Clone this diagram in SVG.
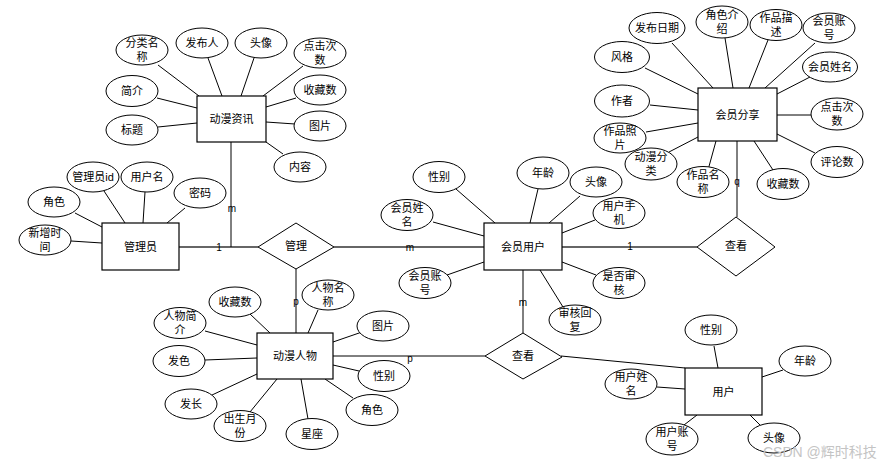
<svg xmlns="http://www.w3.org/2000/svg" width="896" height="466" viewBox="0 0 896 466">
<style>
text{font-family:"Liberation Sans","Noto Sans CJK SC",sans-serif;font-size:11px;fill:#000;text-anchor:middle;dominant-baseline:central}
.ent rect{fill:#fff;stroke:#000;stroke-width:1.2}
.rel polygon{fill:#fff;stroke:#000;stroke-width:1}
.att ellipse{fill:#fff;stroke:#000;stroke-width:1}
.c line{stroke:#000;stroke-width:1}
.c .g{stroke:#666;stroke-width:2}
.lbl{font-size:10px}
.wm{font-size:14px;fill:#c4c4c4;text-anchor:start}
</style>
<rect width="896" height="466" fill="#fff"/>
<g id="connectors" class="c">
<line class="g" x1="179" y1="247" x2="258" y2="247"/>
<line x1="231" y1="142" x2="231" y2="247"/>
<line class="g" x1="334" y1="247" x2="484" y2="247"/>
<line x1="296" y1="269" x2="296" y2="333"/>
<line x1="333" y1="356" x2="485" y2="356"/>
<line x1="523" y1="270" x2="523" y2="333"/>
<line x1="561" y1="356" x2="685" y2="368"/>
<line class="g" x1="562" y1="247" x2="697" y2="247"/>
<line x1="737" y1="141" x2="737" y2="217"/>
<line x1="158" y1="65" x2="199" y2="96"/>
<line x1="208" y1="58" x2="222" y2="96"/>
<line x1="254" y1="58" x2="241" y2="96"/>
<line x1="303" y1="66" x2="263" y2="96"/>
<line x1="296" y1="98" x2="266" y2="107"/>
<line x1="295" y1="124" x2="266" y2="122"/>
<line x1="283" y1="154" x2="266" y2="142"/>
<line x1="157" y1="98" x2="197" y2="108"/>
<line x1="158" y1="127" x2="197" y2="123"/>
<line x1="104" y1="191" x2="125" y2="223"/>
<line x1="145" y1="192" x2="143" y2="223"/>
<line x1="185" y1="208" x2="167" y2="223"/>
<line x1="75" y1="213" x2="102" y2="227"/>
<line x1="71" y1="241" x2="102" y2="243"/>
<line x1="250" y1="314" x2="270" y2="333"/>
<line x1="318" y1="310" x2="308" y2="333"/>
<line x1="205" y1="331" x2="257" y2="345"/>
<line x1="362" y1="332" x2="333" y2="342"/>
<line x1="205" y1="360" x2="257" y2="358"/>
<line x1="359" y1="371" x2="333" y2="365"/>
<line x1="212" y1="395" x2="257" y2="374"/>
<line x1="353" y1="398" x2="325" y2="379"/>
<line x1="250" y1="412" x2="277" y2="379"/>
<line x1="308" y1="419" x2="301" y2="379"/>
<line x1="456" y1="189" x2="495" y2="223"/>
<line x1="538" y1="189" x2="530" y2="223"/>
<line x1="580" y1="196" x2="549" y2="223"/>
<line x1="433" y1="222" x2="484" y2="236"/>
<line x1="595" y1="220" x2="562" y2="233"/>
<line x1="447" y1="275" x2="484" y2="262"/>
<line x1="596" y1="275" x2="562" y2="262"/>
<line x1="563" y1="307" x2="540" y2="270"/>
<line x1="672" y1="43" x2="713" y2="88"/>
<line x1="725" y1="38" x2="733" y2="88"/>
<line x1="768" y1="40" x2="749" y2="88"/>
<line x1="815" y1="43" x2="765" y2="88"/>
<line x1="645" y1="68" x2="698" y2="94"/>
<line x1="810" y1="77" x2="777" y2="94"/>
<line x1="650" y1="105" x2="698" y2="110"/>
<line x1="811" y1="115" x2="777" y2="115"/>
<line x1="646" y1="132" x2="698" y2="123"/>
<line x1="815" y1="153" x2="777" y2="134"/>
<line x1="669" y1="152" x2="698" y2="137"/>
<line x1="708" y1="170" x2="716" y2="141"/>
<line x1="773" y1="170" x2="754" y2="141"/>
<line x1="714" y1="346" x2="718" y2="368"/>
<line x1="783" y1="370" x2="762" y2="377"/>
<line x1="657" y1="387" x2="685" y2="389"/>
<line x1="697" y1="415" x2="684" y2="425"/>
<line x1="750" y1="415" x2="760" y2="425"/>
<text class="lbl" x="219" y="247">1</text>
<text class="lbl" x="232" y="208">m</text>
<text class="lbl" x="410" y="247">m</text>
<text class="lbl" x="296" y="301">p</text>
<text class="lbl" x="410" y="358">p</text>
<text class="lbl" x="630" y="246">1</text>
<text class="lbl" x="523" y="302">m</text>
<text class="lbl" x="737" y="181">q</text>
</g>

<g id="e-dmzx" class="ent"><rect x="197" y="96" width="69" height="46"/><text x="231.5" y="119">动漫资讯</text></g>
<g id="e-gly" class="ent"><rect x="102" y="223" width="77" height="47"/><text x="140.5" y="247">管理员</text></g>
<g id="e-dmrw" class="ent"><rect x="257" y="333" width="76" height="46"/><text x="295" y="356">动漫人物</text></g>
<g id="e-hyyh" class="ent"><rect x="484" y="223" width="78" height="47"/><text x="523" y="247">会员用户</text></g>
<g id="e-hyfx" class="ent"><rect x="698" y="88" width="79" height="53"/><text x="737.5" y="115">会员分享</text></g>
<g id="e-yh" class="ent"><rect x="685" y="368" width="77" height="47"/><text x="723.5" y="392">用户</text></g>

<g id="r-gl" class="rel"><polygon points="258,247 296,223 334,247 296,269"/><text x="296" y="246">管理</text></g>
<g id="r-ck1" class="rel"><polygon points="485,356 523,333 562,357 523,379"/><text x="523" y="356">查看</text></g>
<g id="r-ck2" class="rel"><polygon points="697,247 736,217 775,247 736,276"/><text x="736" y="246">查看</text></g>

<g class="att">
<g id="a1"><ellipse cx="142" cy="50" rx="26" ry="15"/><text x="142" y="43">分类名<tspan x="142" dy="14">称</tspan></text></g>
<g id="a2"><ellipse cx="202" cy="43" rx="26" ry="15"/><text x="202" y="43">发布人</text></g>
<g id="a3"><ellipse cx="261" cy="43" rx="26" ry="15"/><text x="261" y="43">头像</text></g>
<g id="a4"><ellipse cx="320" cy="53" rx="26" ry="15"/><text x="320" y="46">点击次<tspan x="320" dy="14">数</tspan></text></g>
<g id="a5"><ellipse cx="320" cy="90" rx="26" ry="15"/><text x="320" y="90">收藏数</text></g>
<g id="a6"><ellipse cx="320" cy="126" rx="26" ry="15"/><text x="320" y="126">图片</text></g>
<g id="a7"><ellipse cx="300" cy="167" rx="26" ry="15"/><text x="300" y="167">内容</text></g>
<g id="a8"><ellipse cx="132" cy="91" rx="26" ry="15.5"/><text x="132" y="91">简介</text></g>
<g id="a9"><ellipse cx="132" cy="130" rx="26" ry="15"/><text x="132" y="130">标题</text></g>

<g id="a10"><ellipse cx="93" cy="177" rx="26" ry="15"/><text x="93" y="177">管理员id</text></g>
<g id="a11"><ellipse cx="147" cy="177" rx="26" ry="15"/><text x="147" y="177">用户名</text></g>
<g id="a12"><ellipse cx="200" cy="193" rx="26" ry="15"/><text x="200" y="193">密码</text></g>
<g id="a13"><ellipse cx="54" cy="202" rx="26" ry="15"/><text x="54" y="202">角色</text></g>
<g id="a14"><ellipse cx="45" cy="240" rx="26" ry="15"/><text x="45" y="233">新增时<tspan x="45" dy="14">间</tspan></text></g>

<g id="a15"><ellipse cx="235" cy="302" rx="26" ry="15"/><text x="235" y="302">收藏数</text></g>
<g id="a16"><ellipse cx="328" cy="295" rx="26" ry="15"/><text x="328" y="288">人物名<tspan x="328" dy="14">称</tspan></text></g>
<g id="a17"><ellipse cx="180" cy="323" rx="26" ry="15.5"/><text x="180" y="316">人物简<tspan x="180" dy="14">介</tspan></text></g>
<g id="a18"><ellipse cx="383" cy="326" rx="26" ry="15"/><text x="383" y="326">图片</text></g>
<g id="a19"><ellipse cx="179" cy="361" rx="26" ry="15.5"/><text x="179" y="361">发色</text></g>
<g id="a20"><ellipse cx="384" cy="376" rx="26" ry="15.5"/><text x="384" y="376">性别</text></g>
<g id="a21"><ellipse cx="191" cy="404" rx="26" ry="15"/><text x="191" y="404">发长</text></g>
<g id="a22"><ellipse cx="372" cy="410" rx="26" ry="15.5"/><text x="372" y="410">角色</text></g>
<g id="a23"><ellipse cx="240" cy="426" rx="26" ry="15.5"/><text x="240" y="419">出生月<tspan x="240" dy="14">份</tspan></text></g>
<g id="a24"><ellipse cx="312" cy="434" rx="26" ry="15.5"/><text x="312" y="434">星座</text></g>

<g id="a25"><ellipse cx="439" cy="177" rx="26" ry="15.5"/><text x="439" y="177">性别</text></g>
<g id="a26"><ellipse cx="543" cy="173" rx="26" ry="16"/><text x="543" y="173">年龄</text></g>
<g id="a27"><ellipse cx="596" cy="182" rx="26" ry="15"/><text x="596" y="182">头像</text></g>
<g id="a28"><ellipse cx="407" cy="215" rx="26" ry="15.5"/><text x="407" y="208">会员姓<tspan x="407" dy="14">名</tspan></text></g>
<g id="a29"><ellipse cx="619" cy="213" rx="26" ry="15.5"/><text x="619" y="206">用户手<tspan x="619" dy="14">机</tspan></text></g>
<g id="a30"><ellipse cx="425" cy="283" rx="26" ry="15.5"/><text x="425" y="276">会员账<tspan x="425" dy="14">号</tspan></text></g>
<g id="a31"><ellipse cx="619" cy="283" rx="26" ry="15.5"/><text x="619" y="276">是否审<tspan x="619" dy="14">核</tspan></text></g>
<g id="a32"><ellipse cx="575" cy="320" rx="26" ry="15"/><text x="575" y="313">审核回<tspan x="575" dy="14">复</tspan></text></g>

<g id="a33"><ellipse cx="657" cy="28" rx="28" ry="15.5"/><text x="657" y="28">发布日期</text></g>
<g id="a34"><ellipse cx="722" cy="22" rx="26" ry="16"/><text x="722" y="15">角色介<tspan x="722" dy="14">绍</tspan></text></g>
<g id="a35"><ellipse cx="776" cy="25" rx="26" ry="15.5"/><text x="776" y="18">作品描<tspan x="776" dy="14">述</tspan></text></g>
<g id="a36"><ellipse cx="829" cy="28" rx="26" ry="15"/><text x="829" y="21">会员账<tspan x="829" dy="14">号</tspan></text></g>
<g id="a37"><ellipse cx="622" cy="57" rx="27.5" ry="15.5"/><text x="622" y="57">风格</text></g>
<g id="a38"><ellipse cx="830" cy="67" rx="27.5" ry="15"/><text x="830" y="67">会员姓名</text></g>
<g id="a39"><ellipse cx="622" cy="101" rx="27.5" ry="16"/><text x="622" y="101">作者</text></g>
<g id="a40"><ellipse cx="837" cy="114" rx="26" ry="16"/><text x="837" y="107">点击次<tspan x="837" dy="14">数</tspan></text></g>
<g id="a41"><ellipse cx="620" cy="138" rx="26" ry="15"/><text x="620" y="131">作品照<tspan x="620" dy="14">片</tspan></text></g>
<g id="a42"><ellipse cx="837" cy="162" rx="26" ry="15.5"/><text x="837" y="162">评论数</text></g>
<g id="a43"><ellipse cx="651" cy="164" rx="26" ry="16"/><text x="651" y="157">动漫分<tspan x="651" dy="14">类</tspan></text></g>
<g id="a44"><ellipse cx="703" cy="182" rx="26" ry="15.5"/><text x="703" y="175">作品名<tspan x="703" dy="14">称</tspan></text></g>
<g id="a45"><ellipse cx="783" cy="184" rx="26" ry="15.5"/><text x="783" y="184">收藏数</text></g>

<g id="a46"><ellipse cx="711" cy="330" rx="26" ry="15"/><text x="711" y="330">性别</text></g>
<g id="a47"><ellipse cx="805" cy="361" rx="26" ry="15"/><text x="805" y="361">年龄</text></g>
<g id="a48"><ellipse cx="631" cy="384" rx="26" ry="15"/><text x="631" y="377">用户姓<tspan x="631" dy="14">名</tspan></text></g>
<g id="a49"><ellipse cx="672" cy="439" rx="26" ry="16"/><text x="672" y="432">用户账<tspan x="672" dy="14">号</tspan></text></g>
<g id="a50"><ellipse cx="774" cy="438" rx="26" ry="15"/><text x="774" y="438">头像</text></g>
</g>
<text class="wm" x="763" y="452">CSDN @辉时科技</text>
</svg>
